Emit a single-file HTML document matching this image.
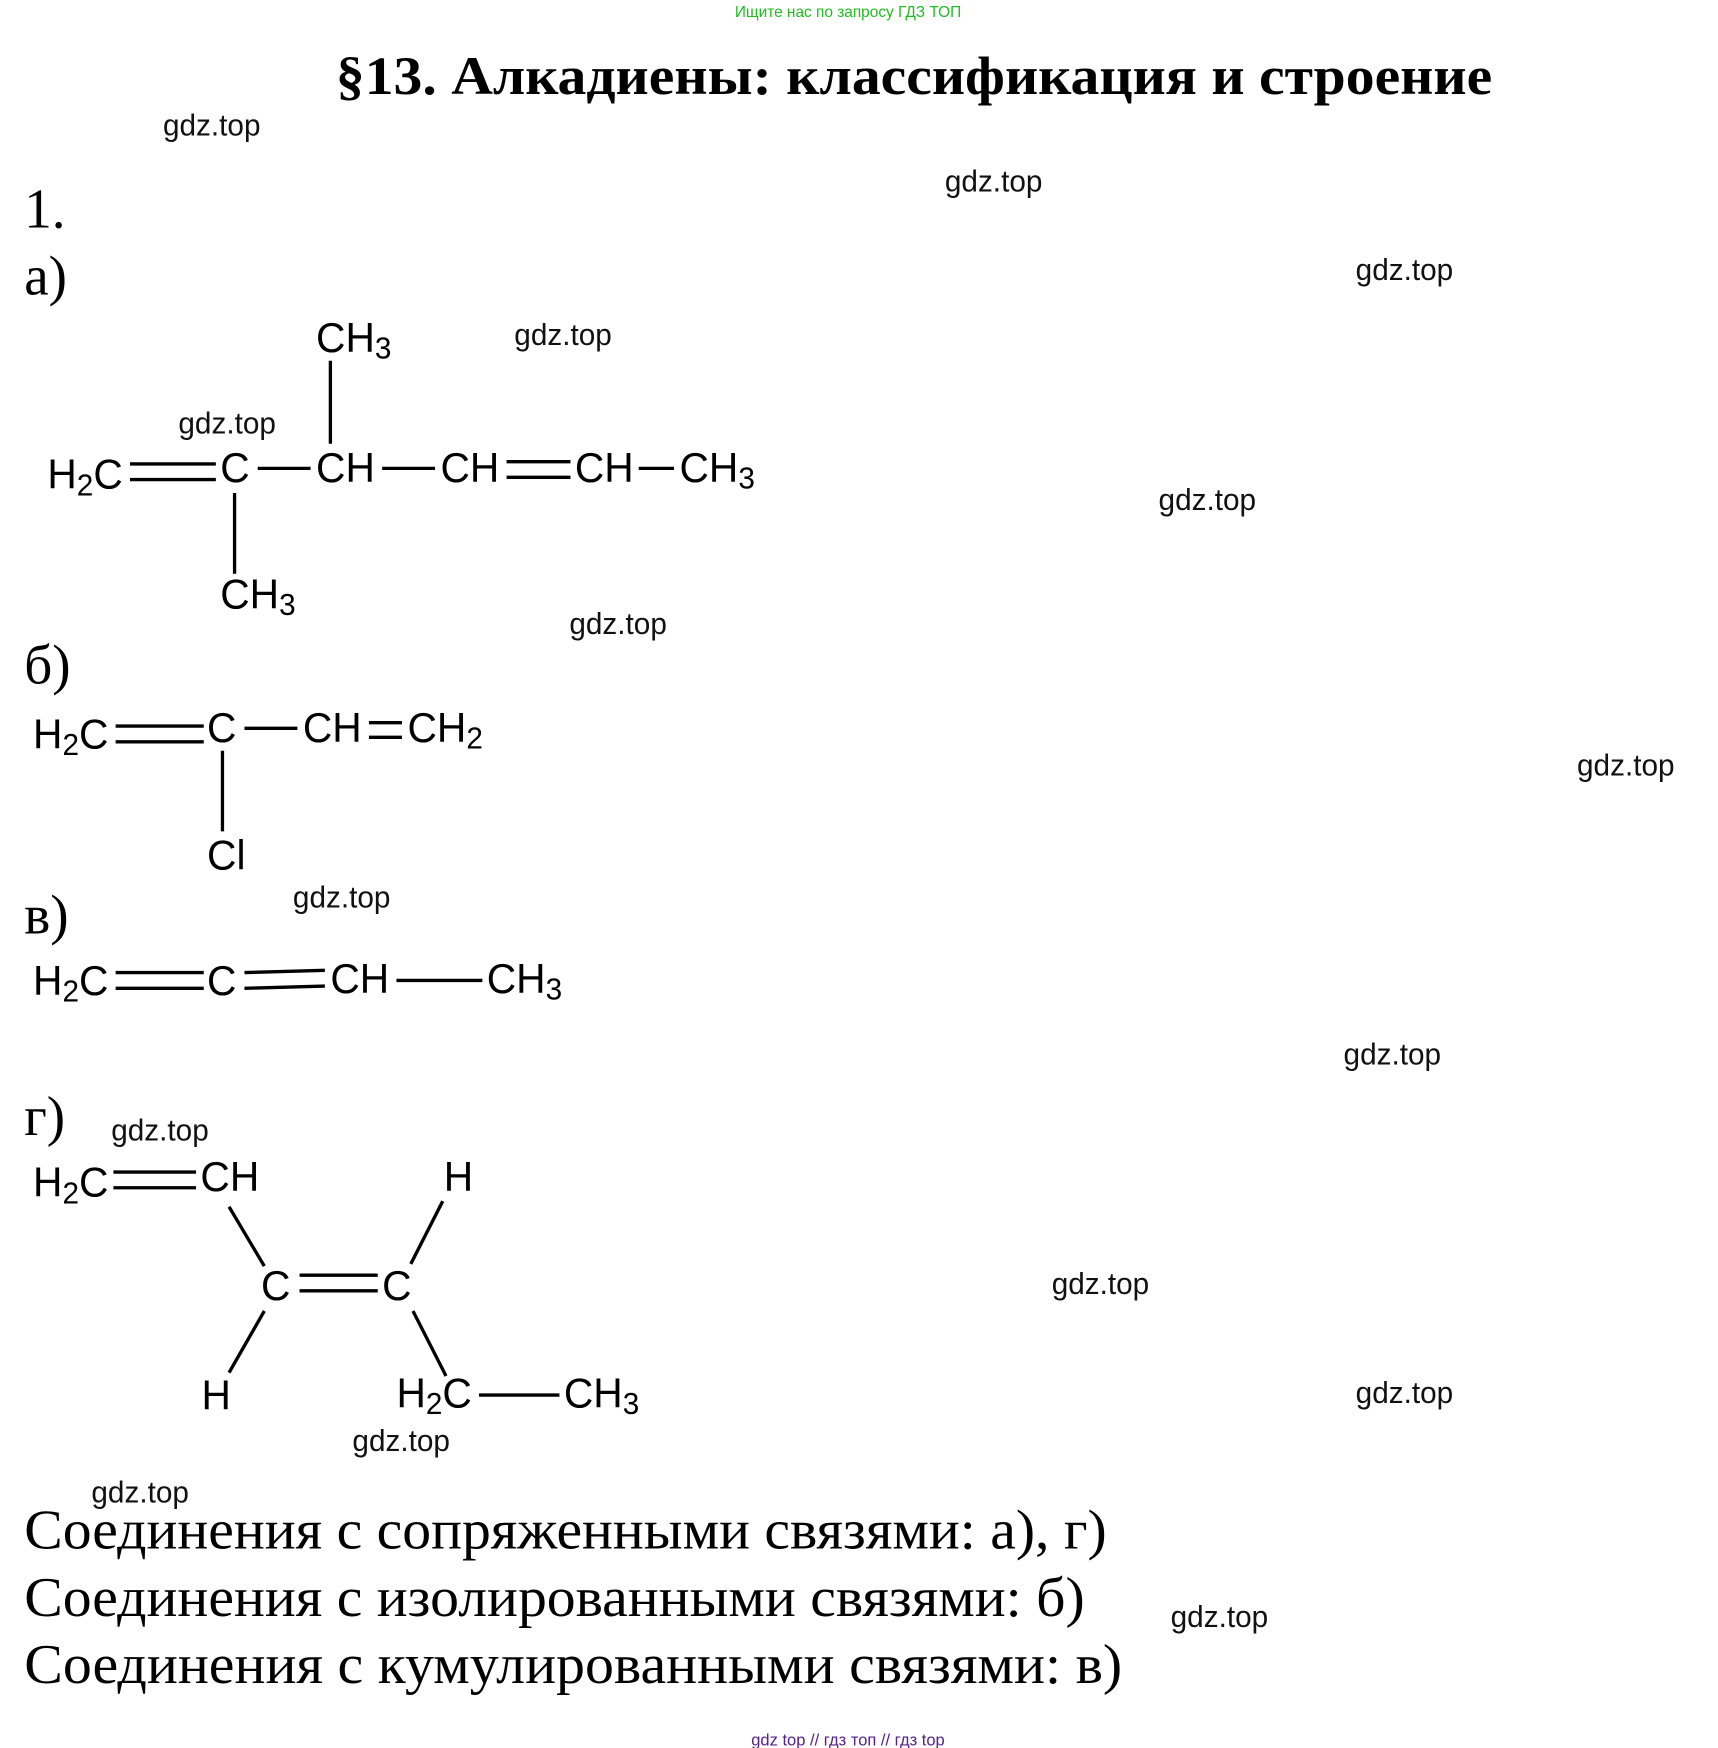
<!DOCTYPE html>
<html><head><meta charset="utf-8"><style>
html,body{margin:0;padding:0;background:#fff;}
svg{display:block;}
.s{font-family:"Liberation Sans",sans-serif;font-size:37px;fill:#000;}
.w{font-family:"Liberation Sans",sans-serif;font-size:27px;fill:#111;}
.r{font-family:"Liberation Serif",serif;fill:#000;}
.sub{font-size:27px;}
line{stroke:#000;stroke-width:3;}
</style></head><body>
<svg width="1718" height="1748" viewBox="0 0 1560 1560" preserveAspectRatio="none" xmlns="http://www.w3.org/2000/svg">
<text x="770" y="15" text-anchor="middle" font-family="Liberation Sans,sans-serif" font-size="14" fill="#22bb22">Ищите нас по запросу ГДЗ ТОП</text>
<text class="r" x="305" y="84" font-size="48" font-weight="bold" textLength="1050" lengthAdjust="spacingAndGlyphs">§13. Алкадиены: классификация и строение</text>

<g class="w">
<text x="148" y="121">gdz.top</text><text x="858" y="171">gdz.top</text><text x="1231" y="250">gdz.top</text>
<text x="467" y="308">gdz.top</text><text x="162" y="387">gdz.top</text><text x="1052" y="455">gdz.top</text>
<text x="517" y="566">gdz.top</text><text x="1432" y="692">gdz.top</text><text x="266" y="810">gdz.top</text>
<text x="1220" y="950">gdz.top</text><text x="101" y="1018">gdz.top</text><text x="955" y="1155">gdz.top</text>
<text x="1231" y="1252">gdz.top</text><text x="320" y="1295">gdz.top</text><text x="83" y="1341">gdz.top</text>
<text x="1063" y="1452">gdz.top</text>
</g>

<g class="r" font-size="50">
<text x="22" y="203">1.</text><text x="22" y="263">а)</text><text x="22" y="610">б)</text>
<text x="22" y="833">в)</text><text x="22" y="1013">г)</text>
</g>

<!-- a -->
<g class="s">
<text x="43" y="436">H<tspan class="sub" dy="6">2</tspan><tspan dy="-6">C</tspan></text>
<text x="200" y="430">C</text><text x="287" y="430">CH</text><text x="400" y="430">CH</text><text x="522" y="430">CH</text>
<text x="617" y="430">CH<tspan class="sub" dy="6">3</tspan></text>
<text x="287" y="314">CH<tspan class="sub" dy="6">3</tspan></text>
<text x="200" y="543">CH<tspan class="sub" dy="6">3</tspan></text>
</g>
<line x1="118" y1="414" x2="196" y2="414"/><line x1="118" y1="428" x2="196" y2="428"/>
<line x1="234" y1="418" x2="282" y2="418"/><line x1="347" y1="418" x2="395" y2="418"/>
<line x1="460" y1="412" x2="518" y2="412"/><line x1="460" y1="426" x2="518" y2="426"/>
<line x1="580" y1="418" x2="612" y2="418"/>
<line x1="300" y1="322" x2="300" y2="396"/><line x1="213" y1="440" x2="213" y2="512"/>

<!-- b -->
<g class="s">
<text x="30" y="668">H<tspan class="sub" dy="6">2</tspan><tspan dy="-6">C</tspan></text>
<text x="188" y="662">C</text><text x="275" y="662">CH</text>
<text x="370" y="662">CH<tspan class="sub" dy="6">2</tspan></text>
<text x="188" y="776">Cl</text>
</g>
<line x1="105" y1="648" x2="185" y2="648"/><line x1="105" y1="662" x2="185" y2="662"/>
<line x1="222" y1="650" x2="270" y2="650"/>
<line x1="335" y1="645" x2="365" y2="645"/><line x1="335" y1="658" x2="365" y2="658"/>
<line x1="202" y1="670" x2="202" y2="742"/>

<!-- v -->
<g class="s">
<text x="30" y="888">H<tspan class="sub" dy="6">2</tspan><tspan dy="-6">C</tspan></text>
<text x="188" y="888">C</text><text x="300" y="886">CH</text>
<text x="442" y="886">CH<tspan class="sub" dy="6">3</tspan></text>
</g>
<line x1="105" y1="868" x2="185" y2="868"/><line x1="105" y1="882" x2="185" y2="882"/>
<line x1="222" y1="868" x2="295" y2="866"/><line x1="222" y1="882" x2="295" y2="880"/>
<line x1="360" y1="875" x2="438" y2="875"/>

<!-- g -->
<g class="s">
<text x="30" y="1068">H<tspan class="sub" dy="6">2</tspan><tspan dy="-6">C</tspan></text>
<text x="182" y="1063">CH</text><text x="403" y="1063">H</text>
<text x="237" y="1160">C</text><text x="347" y="1160">C</text>
<text x="183" y="1258">H</text>
<text x="360" y="1256">H<tspan class="sub" dy="6">2</tspan><tspan dy="-6">C</tspan></text>
<text x="512" y="1256">CH<tspan class="sub" dy="6">3</tspan></text>
</g>
<line x1="103" y1="1046" x2="178" y2="1046"/><line x1="103" y1="1060" x2="178" y2="1060"/>
<line x1="208" y1="1077" x2="240" y2="1130"/><line x1="402" y1="1072" x2="373" y2="1128"/>
<line x1="272" y1="1138" x2="343" y2="1138"/><line x1="272" y1="1152" x2="343" y2="1152"/>
<line x1="240" y1="1170" x2="208" y2="1225"/><line x1="375" y1="1170" x2="405" y2="1228"/>
<line x1="435" y1="1245" x2="508" y2="1245"/>

<g class="r" font-size="50">
<text x="22" y="1382" textLength="983" lengthAdjust="spacingAndGlyphs">Соединения с сопряженными связями: а), г)</text>
<text x="22" y="1442" textLength="963" lengthAdjust="spacingAndGlyphs">Соединения с изолированными связями: б)</text>
<text x="22" y="1502" textLength="997" lengthAdjust="spacingAndGlyphs">Соединения с кумулированными связями: в)</text>
</g>
<text x="770" y="1558" text-anchor="middle" font-family="Liberation Sans,sans-serif" font-size="15" fill="#552288">gdz top  //  гдз топ  //  гдз top</text>
</svg>
</body></html>
